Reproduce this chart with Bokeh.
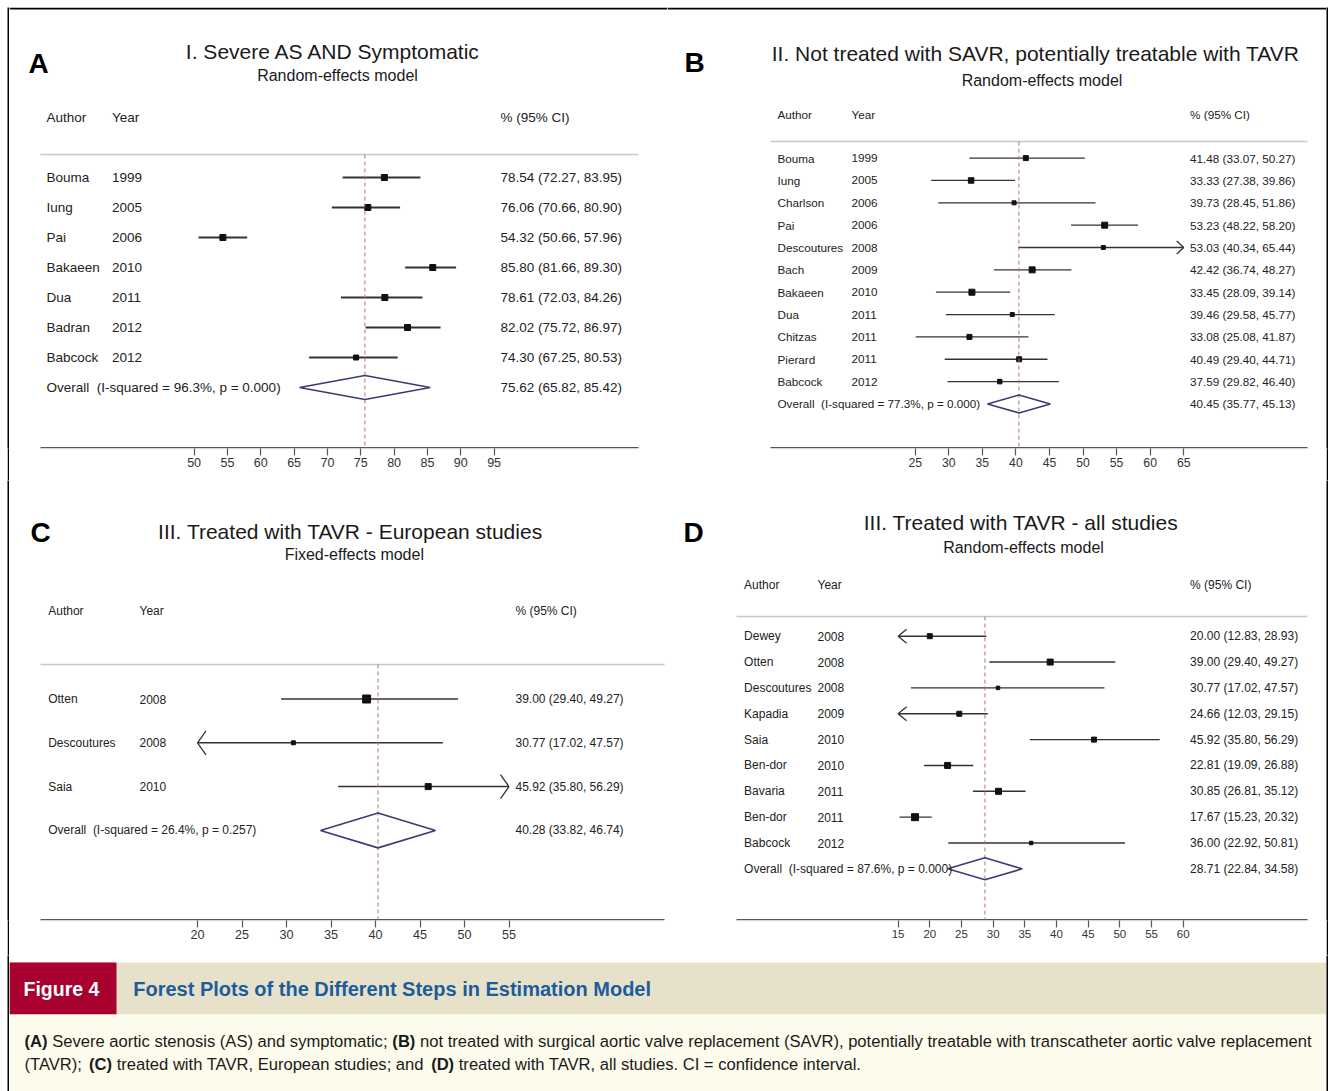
from bokeh.plotting import figure
from bokeh.layouts import column, row
from bokeh.models import Range1d, FixedTicker, ColumnDataSource, Spacer
from bokeh.embed import file_html
from bokeh.resources import INLINE
from bokeh.core.properties import value

FONT = "Liberation Sans"

# ---------------- data ----------------
a_authors = ["Bouma", "Iung", "Pai", "Bakaeen", "Dua", "Badran", "Babcock"]
a_years = [1999, 2005, 2006, 2010, 2011, 2012, 2012]
a_est = [78.54, 76.06, 54.32, 85.80, 78.61, 82.02, 74.30]
a_lo = [72.27, 70.66, 50.66, 81.66, 72.03, 75.72, 67.25]
a_hi = [83.95, 80.90, 57.96, 89.30, 84.26, 86.97, 80.53]
a_overall = [75.62, 65.82, 85.42]
a_i2, a_p = 96.3, 0.000
a_ticks = [50, 55, 60, 65, 70, 75, 80, 85, 90, 95]

b_authors = ["Bouma", "Iung", "Charlson", "Pai", "Descoutures", "Bach", "Bakaeen",
             "Dua", "Chitzas", "Pierard", "Babcock"]
b_years = [1999, 2005, 2006, 2006, 2008, 2009, 2010, 2011, 2011, 2011, 2012]
b_est = [41.48, 33.33, 39.73, 53.23, 53.03, 42.42, 33.45, 39.46, 33.08, 40.49, 37.59]
b_lo = [33.07, 27.38, 28.45, 48.22, 40.34, 36.74, 28.09, 29.58, 25.08, 29.40, 29.82]
b_hi = [50.27, 39.86, 51.86, 58.20, 65.44, 48.27, 39.14, 45.77, 41.87, 44.71, 46.40]
b_overall = [40.45, 35.77, 45.13]
b_i2, b_p = 77.3, 0.000
b_ticks = [25, 30, 35, 40, 45, 50, 55, 60, 65]

c_authors = ["Otten", "Descoutures", "Saia"]
c_years = [2008, 2008, 2010]
c_est = [39.00, 30.77, 45.92]
c_lo = [29.40, 17.02, 35.80]
c_hi = [49.27, 47.57, 56.29]
c_overall = [40.28, 33.82, 46.74]
c_i2, c_p = 26.4, 0.257
c_ticks = [20, 25, 30, 35, 40, 45, 50, 55]

d_authors = ["Dewey", "Otten", "Descoutures", "Kapadia", "Saia", "Ben-dor", "Bavaria",
             "Ben-dor", "Babcock"]
d_years = [2008, 2008, 2008, 2009, 2010, 2010, 2011, 2011, 2012]
d_est = [20.00, 39.00, 30.77, 24.66, 45.92, 22.81, 30.85, 17.67, 36.00]
d_lo = [12.83, 29.40, 17.02, 12.03, 35.80, 19.09, 26.81, 15.23, 22.92]
d_hi = [28.93, 49.27, 47.57, 29.15, 56.29, 26.88, 35.12, 20.32, 50.81]
d_overall = [28.71, 22.84, 34.58]
d_i2, d_p = 87.6, 0.000
d_ticks = [15, 20, 25, 30, 35, 40, 45, 50, 55, 60]

titles = ["I. Severe AS AND Symptomatic",
          "II. Not treated with SAVR, potentially treatable with TAVR",
          "III. Treated with TAVR - European studies",
          "III. Treated with TAVR - all studies"]
subtitles = ["Random-effects model", "Random-effects model",
             "Fixed-effects model", "Random-effects model"]
letters = ["A", "B", "C", "D"]
headers = ["Author", "Year", "% (95% CI)"]

fig_label = "Figure 4"
fig_title = "Forest Plots of the Different Steps in Estimation Model"
caption1 = [("(A)", True), (" Severe aortic stenosis (AS) and symptomatic; ", False),
            ("(B)", True),
            (" not treated with surgical aortic valve replacement (SAVR), potentially treatable with transcatheter aortic valve replacement", False)]
caption2 = [("(TAVR); ", False), ("(C)", True),
            (" treated with TAVR, European studies; and ", False), ("(D)", True),
            (" treated with TAVR, all studies. CI = confidence interval.", False)]

# ---------------- styles (layout in page pixels) ----------------
specA = dict(fx=9, fy=7, w=658, h=473, fl=40, fr=638, axis=447, t0px=193.6, t1px=493.6,
             row0=177, dy=30, sep=154, head=117, title=(333, 50.5), sub=(337, 75),
             letter=(28, 62.5), xa=46, xy=111.5, xc=500, fs=13.5, tfs=12.5, dh=12,
             arrow=(7, 7), lw=2.0, ms=[6, 6, 6, 6, 6, 6, 5], topline=True)
specB = dict(fx=667, fy=7, w=659, h=473, fl=770, fr=1307, axis=449, t0px=914.7, t1px=1183.2,
             row0=158.3, dy=22.45, sep=141.7, head=114, title=(1035, 53), sub=(1041.5, 80),
             letter=(684, 62), xa=777, xy=851, xc=1189.6, fs=11.7, tfs=12.2, dh=9,
             arrow=(7, 6.5), lw=1.3, ms=[5, 5.5, 4, 6, 4, 6, 6, 4, 5, 5, 4.5], topline=True)
specC = dict(fx=9, fy=480, w=658, h=475, fl=40, fr=664, axis=920, t0px=197, t1px=508.5,
             row0=699, dy=43.9, sep=664.3, head=610.7, title=(350, 530.7), sub=(353.8, 554),
             letter=(30, 532.5), xa=47.7, xy=139, xc=515, fs=12, tfs=12.6, dh=17.5,
             arrow=(8.5, 12), lw=1.5, ms=[8, 4, 6], topline=False)
specD = dict(fx=667, fy=480, w=659, h=475, fl=736, fr=1307, axis=919, t0px=897.6, t1px=1182.7,
             row0=635.7, dy=25.85, sep=616, head=584.3, title=(1020.6, 521.7), sub=(1023, 546.7),
             letter=(683, 532), xa=743.6, xy=817, xc=1189.6, fs=12, tfs=11.5, dh=11,
             arrow=(8.5, 7), lw=1.4, ms=[5, 6, 3.5, 5, 5, 6, 6, 7, 3.5], topline=False)

TXT = "#222222"
CI_COL = "#333333"
DIAMOND = "#3b3b78"
DASH = "#b4745e"
AXIS = "#555555"


def panel(spec, authors, years, est, lo, hi, overall, i2, pval, ticks, letter, title, subtitle):
    t0, t1 = ticks[0], ticks[-1]
    k = (t1 - t0) / (spec["t1px"] - spec["t0px"])

    def X(px):
        return t0 + (px - spec["t0px"]) * k

    def Y(py):
        return (py - spec["row0"]) / spec["dy"]

    fbot = spec["axis"] + 1
    p = figure(width=spec["w"], height=spec["h"], output_backend="svg", toolbar_location=None,
               x_range=Range1d(X(spec["fx"]), X(spec["fx"] + spec["w"])),
               y_range=Range1d(Y(fbot), Y(spec["fy"])),
               min_border_left=0, min_border_right=0, min_border_top=0,
               min_border_bottom=spec["fy"] + spec["h"] - fbot,
               y_axis_location=None, title=None)
    p.grid.visible = False
    p.outline_line_color = None
    ax = p.xaxis[0]
    ax.ticker = FixedTicker(ticks=ticks)
    ax.major_tick_out = 7
    ax.major_tick_in = 0
    ax.minor_tick_out = 0
    ax.minor_tick_in = 0
    ax.axis_line_color = None
    ax.major_tick_line_color = AXIS
    ax.major_tick_line_width = 1.2
    ax.major_label_text_font = FONT
    ax.major_label_text_font_size = f"{spec['tfs']}px"
    ax.major_label_text_color = "#333333"
    ax.major_label_standoff = 2

    # outer frame line along the top of the upper panels
    if spec["topline"]:
        p.quad(left=[X(spec["fx"])], right=[X(spec["fx"] + spec["w"])],
               top=[Y(spec["fy"])], bottom=[Y(spec["fy"] + 2)],
               fill_color="black", line_color=None)

    # axis line and separator, spanning the plotting band
    p.segment(x0=[X(spec["fl"]), X(spec["fl"])], x1=[X(spec["fr"]), X(spec["fr"])],
              y0=[Y(spec["axis"] + 0.25), Y(spec["sep"])], y1=[Y(spec["axis"] + 0.25), Y(spec["sep"])],
              line_color=[AXIS, "#c8c8c8"], line_width=1.5)

    n = len(authors)
    rows = list(range(n))
    lo_c = [max(v, t0) for v in lo]
    hi_c = [min(v, t1) for v in hi]
    ci_txt = [f"{e:.2f} ({l:.2f}, {h:.2f})" for e, l, h in zip(est, lo, hi)]
    src = ColumnDataSource(dict(row=rows, author=authors, year=[str(y) for y in years],
                                est=est, lo=lo_c, hi=hi_c, ci=ci_txt, ms=spec["ms"]))

    # titles and panel letter
    p.text(x=[X(spec["title"][0])], y=[Y(spec["title"][1])], text=[title],
           text_align="center", text_baseline="middle", text_font=value(FONT),
           text_font_size="21px", text_color="#1a1a1a")
    p.text(x=[X(spec["sub"][0])], y=[Y(spec["sub"][1])], text=[subtitle],
           text_align="center", text_baseline="middle", text_font=value(FONT),
           text_font_size="16px", text_color="#1a1a1a")
    p.text(x=[X(spec["letter"][0])], y=[Y(spec["letter"][1])], text=[letter],
           text_font=value(FONT), text_font_style="bold", text_font_size="28px",
           text_baseline="middle", text_align="left", text_color="black")

    fs = f"{spec['fs']}px"
    hy = Y(spec["head"])
    p.text(x=[X(spec["xa"]), X(spec["xy"]), X(spec["xc"])], y=[hy, hy, hy], text=headers,
           text_align="left", text_baseline="middle", text_font=value(FONT),
           text_font_size=fs, text_color=TXT)

    # rows text
    p.text(x=X(spec["xa"]), y="row", text="author", source=src, text_baseline="middle",
           text_font=value(FONT), text_font_size=fs, text_color=TXT)
    p.text(x=X(spec["xy"]), y="row", text="year", source=src, text_baseline="middle",
           text_font=value(FONT), text_font_size=fs, text_color=TXT)
    p.text(x=X(spec["xc"]), y="row", text="ci", source=src, text_baseline="middle",
           text_font=value(FONT), text_font_size=fs, text_color=TXT)

    # CI lines and markers
    p.segment(x0="lo", x1="hi", y0="row", y1="row", source=src,
              line_color=CI_COL, line_width=spec["lw"])
    p.scatter(x="est", y="row", size="ms", marker="square", source=src,
              fill_color="#111111", line_color="#111111")

    # arrows for intervals running past the axis
    alen, ah = spec["arrow"]
    ax0, ay0, ax1, ay1 = [], [], [], []
    for i in range(n):
        if lo[i] < t0:
            for s in (-1, 1):
                ax0.append(t0); ay0.append(i)
                ax1.append(t0 + alen * k); ay1.append(i + s * ah / spec["dy"])
        if hi[i] > t1:
            for s in (-1, 1):
                ax0.append(t1); ay0.append(i)
                ax1.append(t1 - alen * k); ay1.append(i + s * ah / spec["dy"])
    if ax0:
        p.segment(x0=ax0, y0=ay0, x1=ax1, y1=ay1, line_color=CI_COL, line_width=1.3)

    # overall estimate
    oe, ol, oh = overall
    dh = spec["dh"] / spec["dy"]
    p.segment(x0=[oe], x1=[oe], y0=[Y(spec["sep"])], y1=[Y(spec["axis"])],
              line_color=DASH, line_width=1, line_dash="4 3")
    p.patch(x=[ol, oe, oh, oe, ol], y=[n, n - dh, n, n + dh, n], fill_color=None,
            line_color=DIAMOND, line_width=1.6)
    p.text(x=[X(spec["xa"])], y=[n], text=[f"Overall\u00a0 (I-squared = {i2:.1f}%, p = {pval:.3f})"],
           text_baseline="middle", text_font=value(FONT), text_font_size=fs, text_color=TXT)
    p.text(x=[X(spec["xc"])], y=[n], text=[f"{oe:.2f} ({ol:.2f}, {oh:.2f})"],
           text_baseline="middle", text_font=value(FONT), text_font_size=fs, text_color=TXT)
    return p


def strip(w, h):
    s = figure(width=w, height=h, min_border=0, toolbar_location=None, output_backend="svg",
               x_axis_location=None, y_axis_location=None, title=None,
               background_fill_color="black", border_fill_color="black")
    s.outline_line_color = None
    s.grid.visible = False
    return s


pA = panel(specA, a_authors, a_years, a_est, a_lo, a_hi, a_overall, a_i2, a_p, a_ticks,
           letters[0], titles[0], subtitles[0])
pB = panel(specB, b_authors, b_years, b_est, b_lo, b_hi, b_overall, b_i2, b_p, b_ticks,
           letters[1], titles[1], subtitles[1])
pC = panel(specC, c_authors, c_years, c_est, c_lo, c_hi, c_overall, c_i2, c_p, c_ticks,
           letters[2], titles[2], subtitles[2])
pD = panel(specD, d_authors, d_years, d_est, d_lo, d_hi, d_overall, d_i2, d_p, d_ticks,
           letters[3], titles[3], subtitles[3])

# ---------------- caption ----------------
W_REG = {' ': 278, '(': 333, ')': 333, ';': 278, ',': 278, '.': 278, '=': 584, '-': 333,
         'a': 556, 'b': 556, 'c': 500, 'd': 556, 'e': 556, 'f': 278, 'g': 556, 'h': 556,
         'i': 222, 'j': 222, 'k': 500, 'l': 222, 'm': 833, 'n': 556, 'o': 556, 'p': 556,
         'q': 556, 'r': 333, 's': 500, 't': 278, 'u': 556, 'v': 500, 'w': 722, 'x': 500,
         'y': 500, 'z': 500, 'A': 667, 'B': 667, 'C': 722, 'D': 722, 'E': 667, 'I': 278,
         'R': 722, 'S': 667, 'T': 611, 'V': 667}
W_BOLD = {'(': 333, ')': 333, 'A': 722, 'B': 722, 'C': 722, 'D': 722, ' ': 278}


def em(s, bold):
    t = W_BOLD if bold else W_REG
    return sum(t.get(ch, 556) for ch in s) / 1000.0


cap_fs = 1289.0 / sum(em(s, b) for s, b in caption1)

cap = figure(width=1317, height=136, x_range=Range1d(9, 1326), y_range=Range1d(1091, 955),
             min_border=0, toolbar_location=None, output_backend="svg",
             x_axis_location=None, y_axis_location=None, title=None)
cap.grid.visible = False
cap.outline_line_color = None
cap.quad(left=[9, 9, 9], right=[1326, 116, 1326], top=[962, 962, 1014],
         bottom=[1014, 1014, 1091], fill_color=["#e8e1ca", "#a8002f", "#fdfbec"],
         line_color=None)
cap.text(x=[23], y=[988], text=[fig_label], text_baseline="middle", text_font=value(FONT),
         text_font_style="bold", text_font_size="19.5px", text_color="white")
cap.text(x=[132.7], y=[988], text=[fig_title], text_baseline="middle", text_font=value(FONT),
         text_font_style="bold", text_font_size="20px", text_color="#1b5c9b")
for segs, ly in ((caption1, 1041), (caption2, 1064)):
    xs, txt, bolds = [], [], []
    x = 24.0
    for s, b in segs:
        lead = len(s) - len(s.lstrip(" "))
        core = s.strip(" ")
        xs.append(x + em(" " * lead, b) * cap_fs)
        txt.append(core)
        bolds.append("bold" if b else "normal")
        x += em(s, b) * cap_fs
    cap.text(x=xs, y=[ly] * len(xs), text=txt, text_font_style=bolds, text_baseline="middle",
             text_font=value(FONT), text_font_size=f"{cap_fs:.2f}px", text_color="#1a1a1a")

layout = row(
    Spacer(width=7, height=1091),
    column(
        Spacer(width=1321, height=7),
        row(strip(2, 473), pA, pB, strip(2, 473)),
        row(strip(2, 475), pC, pD, strip(2, 475)),
        row(strip(2, 136), cap, strip(2, 136)),
    ),
)

open("out.html", "w").write(file_html(layout, INLINE, title="Forest plots"))
